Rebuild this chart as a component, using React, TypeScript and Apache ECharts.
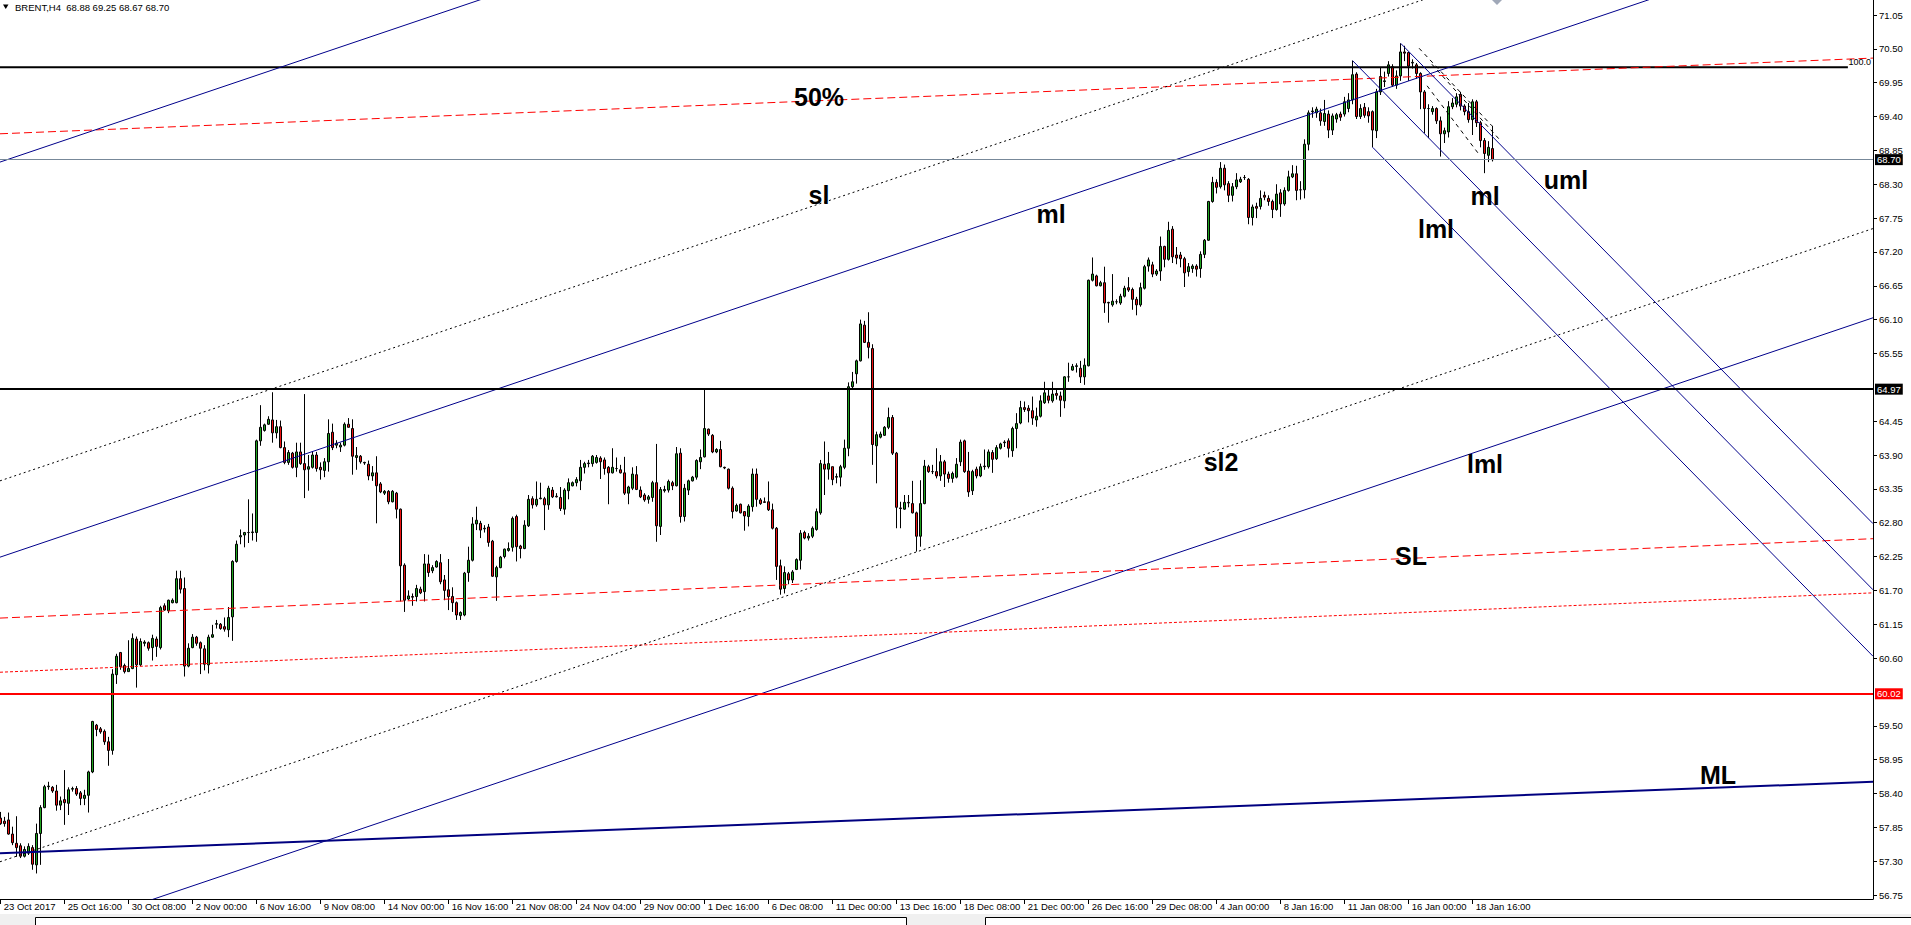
import React, { useEffect, useRef } from "react";
import * as echarts from "echarts";

const W = 1911;
const H = 925;
const FONT = '"Liberation Sans", Arial, sans-serif';

// ---------- axis texts ----------
const xLabels = [
  "23 Oct 2017", "25 Oct 16:00", "30 Oct 08:00", "2 Nov 00:00", "6 Nov 16:00", "9 Nov 08:00",
  "14 Nov 00:00", "16 Nov 16:00", "21 Nov 08:00", "24 Nov 04:00", "29 Nov 00:00", "1 Dec 16:00",
  "6 Dec 08:00", "11 Dec 00:00", "13 Dec 16:00", "18 Dec 08:00", "21 Dec 00:00", "26 Dec 16:00",
  "29 Dec 08:00", "4 Jan 00:00", "8 Jan 16:00", "11 Jan 08:00", "16 Jan 00:00", "18 Jan 16:00",
];
const xLabelStep = 16; // bars between time labels

const yTickLabels = [
  "56.75", "57.30", "57.85", "58.40", "58.95", "59.50", "60.60", "61.15", "61.70", "62.25",
  "62.80", "63.35", "63.90", "64.45", "65.55", "66.10", "66.65", "67.20", "67.75", "68.30",
  "68.85", "69.40", "69.95", "70.50", "71.05",
];

// visible window (bar index / price)
const X_MIN = -0.175;
const X_MAX = 468.08;
const Y_MIN = 56.685;
const Y_MAX = 71.294;

// ---------- H4 bars: [open, high, low, close] ----------
const bars: number[][] = [
  [58.00,58.10,57.89,57.91],[57.95,58.02,57.86,57.91],[57.97,58.09,57.73,57.74],[57.74,57.86,57.56,57.60],
  [57.59,58.03,57.37,57.52],[57.55,57.59,57.35,57.38],[57.38,57.54,57.36,57.49],[57.43,57.59,57.40,57.54],
  [57.52,57.56,57.16,57.25],[57.24,57.91,57.10,57.75],[57.75,58.21,57.24,58.17],[58.17,58.54,58.16,58.51],
  [58.51,58.59,58.46,58.52],[58.50,58.52,58.41,58.44],[58.44,58.54,58.12,58.21],[58.21,58.35,58.13,58.28],
  [58.30,58.78,57.89,58.25],[58.24,58.50,58.05,58.46],[58.47,58.51,58.43,58.48],[58.48,58.52,58.36,58.39],
  [58.41,58.44,58.21,58.32],[58.32,58.46,58.21,58.37],[58.37,58.77,58.09,58.75],[58.75,59.58,58.73,59.57],
  [59.51,59.53,59.33,59.44],[59.45,59.48,59.37,59.40],[59.41,59.44,59.19,59.24],[59.24,59.32,58.85,59.10],
  [59.10,60.42,59.03,60.34],[60.33,60.67,60.18,60.63],[60.69,60.70,60.41,60.46],[60.48,60.51,60.35,60.38],
  [60.38,60.89,60.38,60.43],[60.43,61.00,60.42,60.92],[60.91,60.95,60.12,60.49],[60.49,60.92,60.47,60.87],
  [60.84,60.89,60.79,60.86],[60.85,60.87,60.72,60.76],[60.77,60.98,60.56,60.92],[60.91,60.95,60.62,60.79],
  [60.77,61.45,60.74,61.42],[61.45,61.49,61.37,61.38],[61.37,61.55,61.33,61.54],[61.50,61.57,61.49,61.54],
  [61.50,62.02,61.49,61.89],[61.89,62.02,61.65,61.72],[61.73,61.91,60.30,60.47],[60.47,60.84,60.45,60.76],
  [60.77,60.99,60.76,60.94],[60.94,60.96,60.80,60.84],[60.85,60.87,60.34,60.76],[60.75,60.81,60.40,60.50],
  [60.49,60.98,60.35,60.94],[60.94,61.14,60.93,60.98],[61.15,61.22,61.08,61.16],[61.15,61.17,61.06,61.08],
  [61.11,61.26,61.03,61.07],[61.06,61.43,60.94,61.26],[61.27,62.19,60.88,62.17],[62.17,62.51,62.15,62.45],
  [62.57,62.69,62.45,62.59],[62.60,62.65,62.40,62.64],[62.64,63.18,62.47,62.64],[62.64,62.95,62.51,62.65],
  [62.64,64.15,62.49,64.13],[64.13,64.71,64.05,64.35],[64.30,64.41,64.28,64.39],[64.40,64.53,64.39,64.48],
  [64.47,64.92,64.10,64.26],[64.26,64.47,64.17,64.36],[64.36,64.46,64.01,64.02],[64.02,64.12,63.75,63.78],
  [63.78,63.98,63.74,63.94],[63.93,63.95,63.68,63.70],[63.70,64.10,63.54,63.95],[63.95,64.10,63.74,63.76],
  [63.76,64.89,63.20,63.66],[63.67,63.90,63.32,63.71],[63.70,63.95,63.68,63.90],[63.90,63.95,63.63,63.68],
  [63.70,63.78,63.50,63.66],[63.65,63.85,63.54,63.79],[63.79,64.48,63.63,64.25],[64.27,64.41,63.98,64.02],
  [64.06,64.14,64.01,64.09],[64.03,64.10,63.95,64.06],[64.06,64.43,64.04,64.40],[64.40,64.50,64.35,64.35],
  [64.33,64.48,63.58,63.88],[63.86,64.03,63.66,63.89],[63.88,63.90,63.76,63.79],[63.78,63.79,63.74,63.77],
  [63.75,63.81,63.49,63.56],[63.56,63.72,63.48,63.61],[63.61,63.88,62.79,63.40],[63.43,63.46,63.28,63.30],
  [63.28,63.33,63.25,63.31],[63.31,63.33,63.10,63.14],[63.14,63.33,63.13,63.31],[63.28,63.30,62.87,63.02],
  [63.02,63.03,61.52,62.10],[62.11,62.14,61.35,61.54],[61.56,61.70,61.54,61.61],[61.60,61.65,61.45,61.59],
  [61.60,61.79,61.52,61.73],[61.72,61.76,61.64,61.66],[61.68,62.29,61.52,62.13],[62.13,62.28,61.92,61.99],
  [62.02,62.11,61.98,62.07],[62.08,62.19,62.07,62.17],[62.15,62.29,61.80,61.84],[61.87,61.95,61.54,61.70],
  [61.71,62.21,61.38,61.60],[61.60,61.75,61.35,61.50],[61.50,61.52,61.22,61.30],[61.29,61.36,61.22,61.34],
  [61.30,62.00,61.28,61.98],[61.99,62.41,61.84,62.19],[62.19,62.89,62.17,62.78],[62.78,63.06,62.68,62.84],
  [62.79,62.83,62.55,62.68],[62.70,62.76,62.64,62.71],[62.73,62.78,62.41,62.48],[62.50,62.52,61.92,61.93],
  [61.92,62.10,61.53,62.07],[62.07,62.26,62.06,62.24],[62.25,62.38,62.22,62.37],[62.35,62.48,62.33,62.38],
  [62.40,62.90,62.33,62.87],[62.90,62.93,62.17,62.41],[62.42,62.44,62.22,62.38],[62.38,62.84,62.37,62.76],
  [62.75,63.25,62.73,63.18],[63.19,63.23,63.03,63.09],[63.09,63.47,63.06,63.18],[63.19,63.45,63.18,63.20],
  [63.19,63.22,62.68,63.09],[63.09,63.40,63.01,63.36],[63.33,63.38,63.20,63.22],[63.23,63.28,63.21,63.22],
  [63.21,63.38,62.99,63.03],[63.02,63.36,62.93,63.33],[63.32,63.52,63.18,63.45],[63.40,63.47,63.39,63.45],
  [63.45,63.54,63.39,63.50],[63.48,63.82,63.33,63.70],[63.70,63.79,63.60,63.76],[63.76,63.82,63.70,63.77],
  [63.76,63.90,63.71,63.88],[63.78,63.90,63.76,63.86],[63.85,63.88,63.51,63.79],[63.82,63.86,63.58,63.68],
  [63.70,63.72,63.10,63.61],[63.61,64.01,63.60,63.70],[63.68,63.86,63.63,63.68],[63.66,63.74,63.60,63.61],
  [63.61,63.87,63.25,63.28],[63.28,63.40,63.10,63.38],[63.36,63.70,63.33,63.59],[63.58,63.72,63.33,63.34],
  [63.33,63.39,63.20,63.22],[63.25,63.28,63.14,63.17],[63.18,63.25,63.11,63.22],[63.21,63.48,63.14,63.45],
  [63.45,64.08,62.49,62.75],[62.74,63.38,62.60,63.34],[63.32,63.40,63.29,63.34],[63.33,63.50,63.29,63.47],
  [63.45,63.48,63.33,63.40],[63.40,64.03,63.39,63.92],[63.93,64.01,62.80,62.90],[62.90,63.43,62.82,63.36],
  [63.33,63.50,63.25,63.48],[63.48,63.56,63.47,63.54],[63.54,63.83,63.50,63.81],[63.79,63.99,63.67,63.86],
  [63.87,64.97,63.86,64.33],[64.32,64.33,64.21,64.24],[64.22,64.24,63.93,63.95],[63.95,64.01,63.93,63.99],
  [63.99,64.13,63.70,63.71],[63.70,63.71,63.67,63.69],[63.67,63.68,63.34,63.36],[63.36,63.39,62.87,62.98],
  [62.99,63.11,62.98,63.08],[63.10,63.11,62.95,62.96],[62.98,62.99,62.67,62.91],[62.90,63.10,62.74,63.07],
  [63.06,63.68,62.98,63.59],[63.59,63.68,63.06,63.18],[63.17,63.20,63.09,63.11],[63.14,63.21,63.13,63.13],
  [63.14,63.47,62.99,63.01],[63.01,63.11,62.69,62.71],[62.71,62.73,61.87,62.09],[62.10,62.20,61.63,61.72],
  [61.73,62.09,61.65,61.99],[61.97,62.00,61.80,61.87],[61.87,62.03,61.82,62.00],[62.04,62.22,62.03,62.20],
  [62.19,62.68,62.04,62.63],[62.64,62.67,62.53,62.55],[62.55,62.63,62.51,62.58],[62.58,62.74,62.55,62.71],
  [62.69,63.03,62.67,62.98],[62.96,63.82,62.93,63.76],[63.75,64.12,63.25,63.67],[63.67,63.95,63.50,63.76],
  [63.71,63.71,63.41,63.50],[63.54,63.60,63.44,63.55],[63.54,63.74,63.39,63.71],[63.70,64.15,63.67,64.01],
  [64.01,65.08,63.88,65.01],[65.01,65.25,64.98,65.09],[65.22,65.45,65.06,65.43],[65.43,66.10,65.42,66.03],
  [66.01,66.08,65.72,65.73],[65.73,66.22,65.47,65.65],[65.63,65.70,63.74,64.07],[64.05,64.28,63.44,64.23],
  [64.19,64.28,64.17,64.24],[64.22,64.37,64.21,64.35],[64.35,64.67,64.32,64.51],[64.51,64.55,63.90,63.93],
  [63.93,63.95,62.71,63.05],[63.04,63.14,62.71,63.03],[63.02,63.25,63.01,63.13],[63.13,63.25,63.05,63.12],
  [63.11,63.48,62.95,62.96],[62.96,62.98,62.33,62.58],[62.58,63.49,62.41,63.11],[63.11,63.82,63.10,63.72],
  [63.71,63.74,63.61,63.63],[63.63,63.74,63.59,63.63],[63.63,64.01,63.52,63.56],[63.56,63.90,63.48,63.79],
  [63.79,63.82,63.38,63.59],[63.59,63.63,63.45,63.52],[63.52,63.63,63.45,63.60],[63.54,63.85,63.52,63.75],
  [63.79,64.15,63.72,64.11],[64.13,64.15,63.61,63.63],[63.64,63.95,63.22,63.30],[63.32,63.66,63.25,63.63],
  [63.67,63.71,63.52,63.56],[63.56,63.76,63.54,63.71],[63.71,63.99,63.66,63.72],[63.71,63.99,63.68,63.95],
  [63.94,63.98,63.61,63.83],[63.84,64.06,63.82,64.02],[64.01,64.10,63.99,64.08],[64.10,64.14,64.03,64.11],
  [64.13,64.17,63.86,64.01],[63.97,64.36,63.87,64.33],[64.33,64.58,64.01,64.41],[64.42,64.78,64.40,64.67],
  [64.67,64.77,64.60,64.64],[64.66,64.71,64.43,64.62],[64.62,64.85,64.39,64.50],[64.47,64.67,64.36,64.53],
  [64.53,64.87,64.51,64.78],[64.75,65.09,64.73,64.91],[64.86,64.96,64.74,64.79],[64.78,65.09,64.75,64.89],
  [64.90,64.96,64.80,64.87],[64.86,64.93,64.52,64.79],[64.78,65.18,64.66,65.17],[65.17,65.40,65.09,65.17],
  [65.28,65.38,65.27,65.34],[65.34,65.39,65.24,65.35],[65.31,65.43,65.07,65.17],[65.17,65.47,65.04,65.36],
  [65.35,66.75,65.34,66.74],[66.74,67.11,66.72,66.84],[66.81,66.83,66.64,66.65],[66.65,66.73,66.64,66.70],
  [66.70,66.96,66.21,66.37],[66.38,66.39,66.05,66.37],[66.34,66.84,66.31,66.40],[66.39,66.43,66.35,66.39],
  [66.37,66.52,66.34,66.48],[66.48,66.65,66.46,66.61],[66.62,66.79,66.55,66.58],[66.59,66.62,66.26,66.43],
  [66.43,66.47,66.17,66.34],[66.34,66.70,66.31,66.62],[66.61,66.99,66.59,66.96],[66.97,67.11,66.88,67.07],
  [66.99,67.04,66.79,66.84],[66.84,66.92,66.81,66.89],[66.89,67.45,66.73,67.29],[67.29,67.30,66.95,67.08],
  [67.08,67.69,67.06,67.55],[67.57,67.62,67.02,67.12],[67.15,67.28,67.00,67.10],[67.15,67.20,66.95,67.09],
  [67.09,67.12,66.63,66.86],[66.88,67.02,66.80,66.96],[66.93,67.00,66.86,66.97],[66.97,67.00,66.80,66.92],
  [66.93,67.21,66.78,67.16],[67.16,67.41,67.10,67.39],[67.39,68.03,67.38,68.02],[68.02,68.42,68.00,68.33],
  [68.33,68.38,68.15,68.25],[68.26,68.66,68.23,68.56],[68.56,68.62,68.20,68.29],[68.31,68.35,68.01,68.12],
  [68.12,68.32,68.02,68.26],[68.26,68.48,68.22,68.37],[68.34,68.42,68.32,68.38],[68.41,68.45,68.37,68.41],
  [68.38,68.40,67.65,67.76],[67.76,67.97,67.63,67.93],[67.94,68.00,67.75,67.91],[67.94,68.20,67.89,68.07],
  [68.12,68.18,68.04,68.09],[68.07,68.12,67.95,68.02],[68.02,68.05,67.75,67.89],[67.89,68.30,67.87,68.14],
  [68.16,68.22,67.77,67.98],[67.98,68.25,67.95,68.20],[68.20,68.52,68.18,68.42],[68.42,68.61,68.40,68.47],
  [68.47,68.60,68.04,68.20],[68.21,68.35,68.05,68.21],[68.21,69.03,68.07,68.95],[68.95,69.50,68.85,69.46],
  [69.48,69.55,69.38,69.49],[69.46,69.56,69.38,69.52],[69.46,69.53,69.25,69.33],[69.32,69.67,69.25,69.45],
  [69.44,69.50,69.05,69.18],[69.18,69.45,69.10,69.41],[69.36,69.46,69.30,69.43],[69.44,69.48,69.33,69.39],
  [69.44,69.72,69.40,69.64],[69.53,69.78,69.47,69.67],[69.67,70.31,69.60,70.08],[70.09,70.12,69.36,69.40],
  [69.40,69.60,69.36,69.53],[69.55,69.62,69.38,69.42],[69.48,69.55,69.30,69.41],[69.48,69.50,68.90,69.18],
  [69.17,69.85,69.05,69.80],[69.80,70.19,69.75,70.05],[69.97,70.13,69.88,69.98],[70.10,70.30,70.05,70.24],
  [70.21,70.25,69.88,69.91],[69.91,70.15,69.85,70.06],[70.06,70.59,69.98,70.45],[70.45,70.55,70.30,70.43],
  [70.44,70.45,69.98,70.22],[70.27,70.33,70.18,70.28],[70.24,70.27,70.02,70.10],[70.10,70.12,69.52,69.80],
  [69.80,69.83,69.13,69.53],[69.53,69.60,69.05,69.53],[69.48,69.57,69.43,69.53],[69.53,69.55,69.28,69.33],
  [69.33,69.40,68.75,69.12],[69.12,69.22,68.97,69.17],[69.15,69.65,69.06,69.56],[69.56,69.70,69.52,69.62],
  [69.60,69.78,69.55,69.72],[69.76,69.80,69.50,69.57],[69.57,69.60,69.42,69.48],[69.48,69.62,69.30,69.35],
  [69.35,69.68,69.10,69.64],[69.64,69.67,69.23,69.30],[69.30,69.33,68.90,69.01],[69.01,69.05,68.48,68.80],
  [68.77,69.00,68.66,68.90],[68.88,69.25,68.67,68.70],
];

// ---------- horizontal levels ----------
const lastPrice = 68.70;
const resistanceLevel = 64.97;
const supportLevel = 60.02;
const fib100Level = 70.20;

// ---------- trend lines: [[barIndex, price], [barIndex, price]] ----------
const fib100Line = [[X_MIN, fib100Level], [461.8, fib100Level]];
const bigForkUpper = [[X_MIN, 68.66], [X_MAX, 78.95]];
const bigForkMedian = [[X_MIN, 62.24], [X_MAX, 72.53]];
const bigForkLower = [[X_MIN, 55.84], [X_MAX, 66.13]];
const slDotted = [[X_MIN, 63.48], [X_MAX, 73.77]];
const sl2Dotted = [[X_MIN, 57.29], [X_MAX, 67.58]];
const mlLong = [[X_MIN, 57.43], [X_MAX, 58.59]];
const fib50Dashed = [[X_MIN, 69.12], [X_MAX, 70.35]];
const slRedDashed = [[X_MIN, 61.25], [X_MAX, 62.54]];
const redDotted = [[X_MIN, 60.37], [X_MAX, 61.66]];
const smallForkMedian = [[338, 70.307], [X_MAX, 61.71]];
const smallForkUpper = [[350, 70.59], [X_MAX, 62.785]];
const smallForkLower = [[343, 68.9], [X_MAX, 60.63]];
const dashA = [[354.6, 70.51], [372.8, 69.25]];
const dashB = [[357.8, 70.25], [374.8, 69.02]];
const dashC = [[356.6, 69.9], [369.3, 68.81]];

// ---------- annotation texts ----------
const notes = [
  { text: "50%", x: 819, y: 97 },
  { text: "sl", x: 819, y: 195 },
  { text: "ml", x: 1051, y: 214 },
  { text: "lml", x: 1436, y: 229 },
  { text: "ml", x: 1485, y: 196 },
  { text: "uml", x: 1566, y: 180 },
  { text: "sl2", x: 1221, y: 462 },
  { text: "lml", x: 1485, y: 464 },
  { text: "SL", x: 1411, y: 556 },
  { text: "ML", x: 1718, y: 775 },
];
const titleText = "BRENT,H4  68.88 69.25 68.67 68.70";

const GREEN = "#1fa51f";
const RED = "#ee1111";
const BLUE = "#00008b";
const NAVY = "#000080";

function lineSeries(data: number[][], color: string, width: number, type: any) {
  return {
    type: "line",
    data,
    symbol: "none",
    showSymbol: false,
    clip: true,
    silent: true,
    animation: false,
    z: 3,
    lineStyle: { color, width, type },
  };
}

function priceLabel(bg: string) {
  return {
    show: true,
    position: "end",
    distance: 2,
    formatter: (p: any) => Number(p.value).toFixed(2),
    backgroundColor: bg,
    color: "#fff",
    fontSize: 9.5,
    fontFamily: FONT,
    padding: [1, 2, 0, 2],
  };
}

export default function App() {
  const ref = useRef<HTMLDivElement>(null);

  useEffect(() => {
    if (!ref.current) return;
    const chart = echarts.init(ref.current, null, { renderer: "svg", width: W, height: H });
    const candleData = bars.map((b, i) => [i, b[0], b[3], b[2], b[1]]);
    const xTickValues = xLabels.map((_, i) => i * xLabelStep);
    const yTickValues = yTickLabels.map((s) => parseFloat(s));

    const option: any = {
      animation: false,
      backgroundColor: "#ffffff",
      grid: { left: 0, right: W - 1873, top: 0, bottom: H - 899, containLabel: false, outerBoundsMode: "none" },
      xAxis: {
        type: "value",
        min: X_MIN,
        max: X_MAX,
        splitLine: { show: false },
        axisLine: { show: true, onZero: false, lineStyle: { color: "#000", width: 1 } },
        axisTick: { show: true, customValues: xTickValues, length: 5, lineStyle: { color: "#000" } },
        axisLabel: {
          show: true,
          customValues: xTickValues,
          formatter: (v: number) => xLabels[Math.round(v / xLabelStep)] ?? "",
          align: "left",
          margin: 2,
          padding: [0, 0, 0, 3],
          color: "#000",
          fontSize: 9.5,
          fontFamily: FONT,
        },
      },
      yAxis: {
        type: "value",
        position: "right",
        min: Y_MIN,
        max: Y_MAX,
        scale: true,
        splitLine: { show: false },
        axisLine: { show: true, onZero: false, lineStyle: { color: "#000", width: 1 } },
        axisTick: { show: true, customValues: yTickValues, length: 4, lineStyle: { color: "#000" } },
        axisLabel: {
          show: true,
          customValues: yTickValues,
          formatter: (v: number) => v.toFixed(2),
          margin: 6,
          color: "#000",
          fontSize: 9.5,
          fontFamily: FONT,
        },
      },
      series: [
        {
          type: "candlestick",
          data: candleData,
          encode: { x: 0, y: [1, 2, 3, 4] },
          barWidth: 2,
          silent: true,
          z: 2,
          itemStyle: { color: GREEN, color0: RED, borderColor: "#000", borderColor0: "#000", borderWidth: 1 },
          markLine: {
            silent: true,
            symbol: ["none", "none"],
            animation: false,
            data: [
              { yAxis: lastPrice, lineStyle: { color: "#778899", width: 1, type: "solid" }, label: priceLabel("#000") },
              { yAxis: resistanceLevel, lineStyle: { color: "#000", width: 2, type: "solid" }, label: priceLabel("#000") },
              { yAxis: supportLevel, lineStyle: { color: "#ff0000", width: 2, type: "solid" }, label: priceLabel("#ff0000") },
            ],
          },
        },
        lineSeries(fib100Line, "#000", 2, "solid"),
        lineSeries(fib50Dashed, "#ff0000", 1, [8, 4]),
        lineSeries(slRedDashed, "#ff0000", 1, [8, 4]),
        lineSeries(redDotted, "#ff0000", 1, [3, 2]),
        lineSeries(bigForkUpper, BLUE, 1, "solid"),
        lineSeries(bigForkMedian, BLUE, 1, "solid"),
        lineSeries(bigForkLower, BLUE, 1, "solid"),
        lineSeries(slDotted, "#000", 1, [2, 3]),
        lineSeries(sl2Dotted, "#000", 1, [2, 3]),
        lineSeries(mlLong, NAVY, 2, "solid"),
        lineSeries(smallForkMedian, BLUE, 1, "solid"),
        lineSeries(smallForkUpper, BLUE, 1, "solid"),
        lineSeries(smallForkLower, BLUE, 1, "solid"),
        lineSeries(dashA, "#000", 1, [4, 4]),
        lineSeries(dashB, "#000", 1, [4, 4]),
        lineSeries(dashC, "#000", 1, [4, 4]),
      ],
      graphic: [
        ...notes.map((n) => ({
          type: "text",
          x: n.x,
          y: n.y,
          z: 10,
          silent: true,
          style: {
            text: n.text,
            font: `bold 25px ${FONT}`,
            fill: "#000",
            align: "center",
            verticalAlign: "middle",
            textAlign: "center",
            textVerticalAlign: "middle",
          },
        })),
        {
          type: "text",
          x: 1871,
          y: 62,
          z: 10,
          silent: true,
          style: {
            text: "100.0",
            font: `9px ${FONT}`,
            fill: "#000",
            align: "right",
            verticalAlign: "middle",
            textAlign: "right",
            textVerticalAlign: "middle",
          },
        },
        {
          type: "polygon",
          z: 10,
          silent: true,
          shape: { points: [[3, 4.5], [8.5, 4.5], [5.75, 9]] },
          style: { fill: "#000" },
        },
        {
          type: "text",
          x: 15,
          y: 7,
          z: 10,
          silent: true,
          style: {
            text: titleText,
            font: `9.5px ${FONT}`,
            fill: "#000",
            align: "left",
            verticalAlign: "middle",
            textAlign: "left",
            textVerticalAlign: "middle",
          },
        },
        {
          type: "polygon",
          z: 10,
          silent: true,
          shape: { points: [[1492, 0], [1502, 0], [1497, 5]] },
          style: { fill: "#a0a8b8" },
        },
        {
          type: "rect",
          z: 1,
          silent: true,
          shape: { x: 0, y: 914, width: W, height: 11 },
          style: { fill: "#f0f0f0" },
        },
        {
          type: "rect",
          z: 2,
          silent: true,
          shape: { x: 35.5, y: 917.5, width: 871, height: 10 },
          style: { fill: "#ffffff", stroke: "#000", lineWidth: 1 },
        },
        {
          type: "rect",
          z: 2,
          silent: true,
          shape: { x: 985.5, y: 917.5, width: 930, height: 10 },
          style: { fill: "#ffffff", stroke: "#000", lineWidth: 1 },
        },
      ],
    };

    chart.setOption(option);
    return () => chart.dispose();
  }, []);

  return (
    <div
      ref={ref}
      style={{ position: "fixed", left: 0, top: 0, width: W, height: H, background: "#fff" }}
    />
  );
}
